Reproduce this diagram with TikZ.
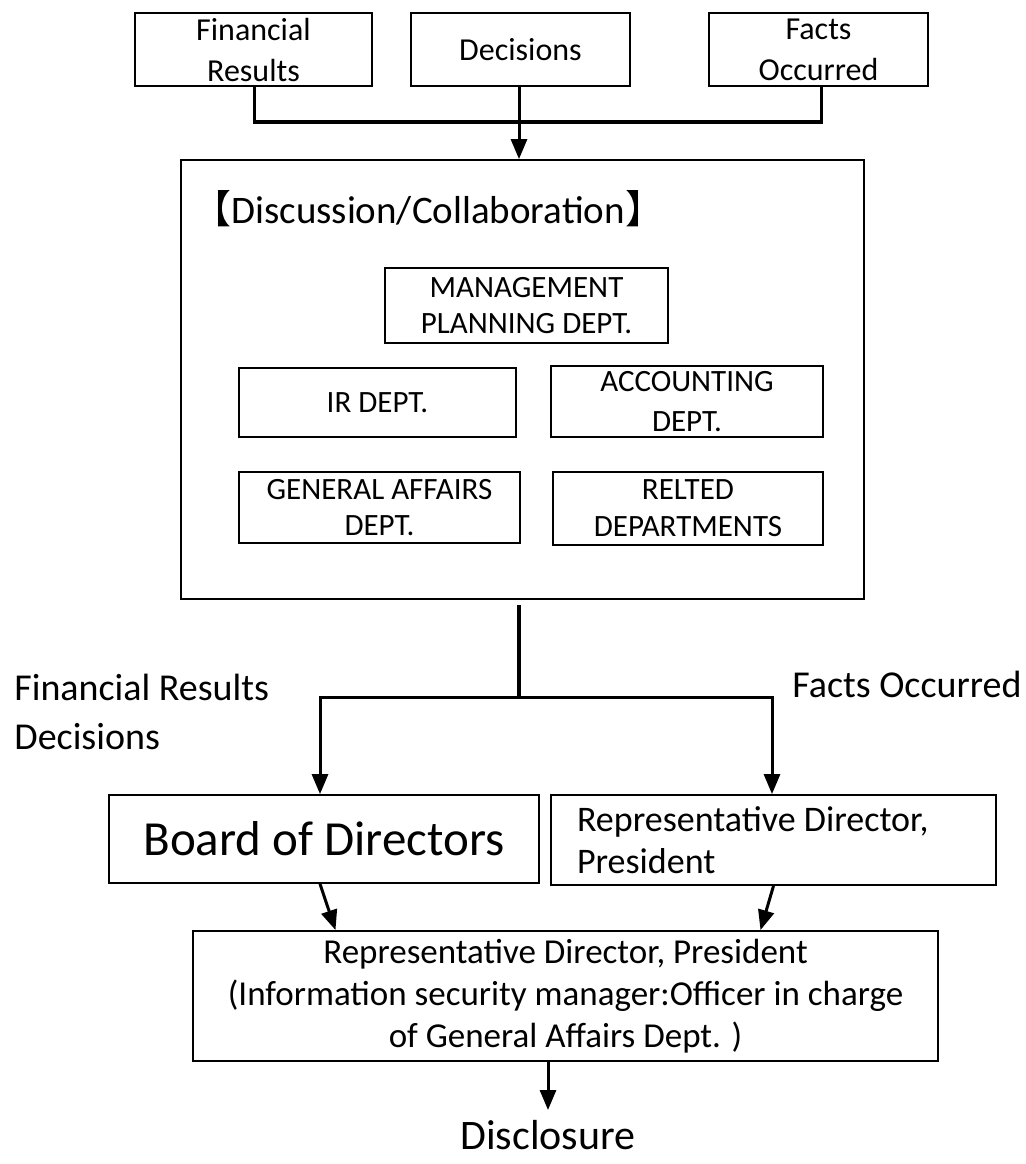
\documentclass[tikz,border=0pt]{standalone}
\usepackage{fontspec}
\setmainfont{Carlito}
\newfontfamily\cjk{Noto Sans CJK JP}
\usetikzlibrary{arrows.meta,calc}

\tikzset{
  box/.style={draw, line width=0.9pt, align=center, inner sep=0pt},
  link/.style={line width=1.7pt},
  flow/.style={line width=1.5pt, -{Triangle[length=10pt,width=8pt]}},
}

\begin{document}
\begin{tikzpicture}[x=0.5pt, y=-0.5pt]
    \useasboundingbox (0,0) rectangle (1025,1164);

    % inputs
    \node[box, minimum width=118.5pt, minimum height=36.5pt, font=\fontsize{16}{20.5}\selectfont] (fin) at (253.5,49.5) {Financial\\Results};
    \node[box, minimum width=109.5pt, minimum height=36.5pt, font=\fontsize{16}{20.5}\selectfont] (dec) at (520.5,49.5) {Decisions};
    \node[box, minimum width=109.5pt, minimum height=36.5pt, font=\fontsize{16}{20.5}\selectfont] (facts) at (818.5,49.5) {Facts\\Occurred};

    % discussion block
    \node[box, minimum width=341.5pt, minimum height=219.5pt] (disc) at (522.5,379.5) {};
    \node[anchor=west, inner sep=0pt, font=\fontsize{19.5}{23}\selectfont] (title) at (192,209) {{\cjk 【}Discussion/Collaboration{\cjk 】}};
    \node[box, minimum width=141.5pt, minimum height=37.5pt, font=\fontsize{15.5}{18}\selectfont] (mgmt) at (526.5,305.5) {MANAGEMENT\\PLANNING DEPT.};
    \node[box, minimum width=138.5pt, minimum height=34.5pt, font=\fontsize{15.5}{18}\selectfont] (ir) at (377.5,402.5) {IR DEPT.};
    \node[box, minimum width=136pt, minimum height=35.5pt, font=\fontsize{15.5}{20}\selectfont] (acc) at (687,401.5) {ACCOUNTING\\DEPT.};
    \node[box, minimum width=140.5pt, minimum height=35.5pt, font=\fontsize{15.5}{18}\selectfont] (ga) at (379.5,507.5) {GENERAL AFFAIRS\\DEPT.};
    \node[box, minimum width=135pt, minimum height=36.5pt, font=\fontsize{15.5}{18.5}\selectfont] (rel) at (688,508.5) {RELTED\\DEPARTMENTS};

    % side labels
    \node[anchor=west, inner sep=0pt, align=left, font=\fontsize{19}{24.5}\selectfont] (lblleft) at (14,712) {Financial Results\\Decisions};
    \node[anchor=west, inner sep=0pt, font=\fontsize{19}{24.5}\selectfont] (lblright) at (792,684) {Facts Occurred};

    % approvers
    \node[box, minimum width=215pt, minimum height=44pt, font=\fontsize{24.5}{29}\selectfont] (board) at (324,839) {Board of Directors};
    \node[box, text width=196.5pt, inner xsep=13pt, minimum height=45pt, align=flush left, font=\fontsize{18}{21}\selectfont] (rep) at (773.5,840) {Representative Director,\\President};
    \node[box, minimum width=372.5pt, minimum height=65pt, font=\fontsize{17.5}{21}\selectfont] (pres) at (565.5,996) {Representative Director, President\\(Information security manager:Officer in charge\\of General Affairs Dept. )};
    \node[anchor=north, inner xsep=0pt, inner ysep=5pt, font=\fontsize{21}{25}\selectfont] (discl) at (548,1110) {Disclosure};

    \coordinate (join) at (519,122);
    \coordinate (split) at (519,697);

    % connectors
    \draw[link] ($(fin.south)+(1,0)$) |- (join) -| ($(facts.south)+(3,0)$);
    \draw[flow] (dec.south -| join) -- (disc.north -| join);
    \draw[link] (disc.south -| split) ++(0,5) -- (split);
    \draw[flow] (split) -| ($(board.north)+(-4,0)$);
    \draw[flow] (split) -| ($(rep.north)+(-1.5,0)$);
    \draw[flow] ($(board.south)+(-4,0)$) -- ($(pres.north)+(-230,0)$);
    \draw[flow] ($(rep.south)+(0,0)$) -- ($(pres.north)+(195,0)$);
    \draw[flow] (pres.south -| discl) -- (discl.north);
\end{tikzpicture}
\end{document}
